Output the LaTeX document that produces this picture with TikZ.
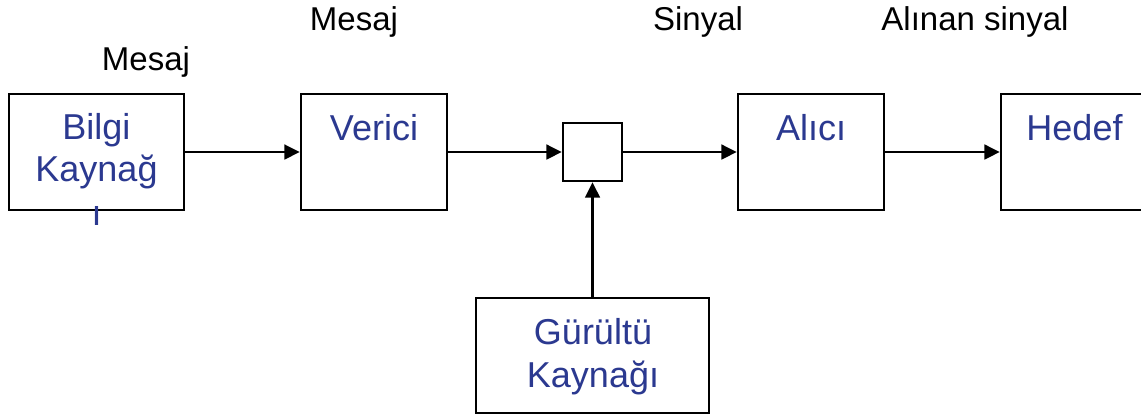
\documentclass[tikz,border=0pt]{standalone}
\usepackage{fontspec}
\setmainfont{Liberation Sans}
\usetikzlibrary{arrows.meta}
\definecolor{txtblue}{RGB}{43,57,144}
\tikzset{
  box/.style={draw=black, line width=1.8pt, fill=white, inner sep=0pt, rectangle},
  lbl/.style={anchor=base, inner sep=0pt, font=\fontsize{24.75}{30}\selectfont, text=black},
  btxt/.style={anchor=base, inner sep=0pt, font=\fontsize{27}{31.5}\selectfont, text=txtblue},
  conn/.style={line width=1.7pt, -{Triangle[length=11.5pt,width=11pt]}}
}
\begin{document}
\begin{tikzpicture}[x=0.75pt,y=-0.75pt]
\useasboundingbox (0,0) rectangle (1141,415);
% boxes
\node[box, minimum width=131.25pt, minimum height=87pt] (bilgi) at (96.5,152) {};
\node[box, minimum width=109.5pt, minimum height=87pt] (verici) at (374,152) {};
\node[box, minimum width=44.25pt, minimum height=43.5pt] (sum) at (592.5,152) {};
\node[box, minimum width=109.5pt, minimum height=87pt] (alici) at (811,152) {};
\node[box, minimum width=109.5pt, minimum height=87pt] (hedef) at (1074,152) {};
\node[box, minimum width=174.75pt, minimum height=86.25pt] (gurultu) at (592.5,355.5) {};
% box texts
\node[btxt] (t1) at (96.5,139) {Bilgi};
\node[btxt] (t2) at (96.5,181) {Kaynağ};
\node[btxt] (t3) at (96.5,225) {ı};
\node[btxt] (t4) at (374,140) {Verici};
\node[btxt] (t5) at (811,140) {Alıcı};
\node[btxt] (t6) at (1074.5,140) {Hedef};
\node[btxt] (t7) at (593,344) {Gürültü};
\node[btxt] (t8) at (593,387) {Kaynağı};
% labels
\node[lbl] (l1) at (146,70) {Mesaj};
\node[lbl] (l2) at (354,30) {Mesaj};
\node[lbl] (l3) at (698,30) {Sinyal};
\node[lbl] (l4) at (975,30) {Alınan sinyal};
% connectors
\draw[conn] (bilgi.east) -- (verici.west);
\draw[conn] (verici.east) -- (sum.west);
\draw[conn] (sum.east) -- (alici.west);
\draw[conn] (alici.east) -- (hedef.west);
\draw[conn] (gurultu.north) -- (sum.south);
\end{tikzpicture}
\end{document}
